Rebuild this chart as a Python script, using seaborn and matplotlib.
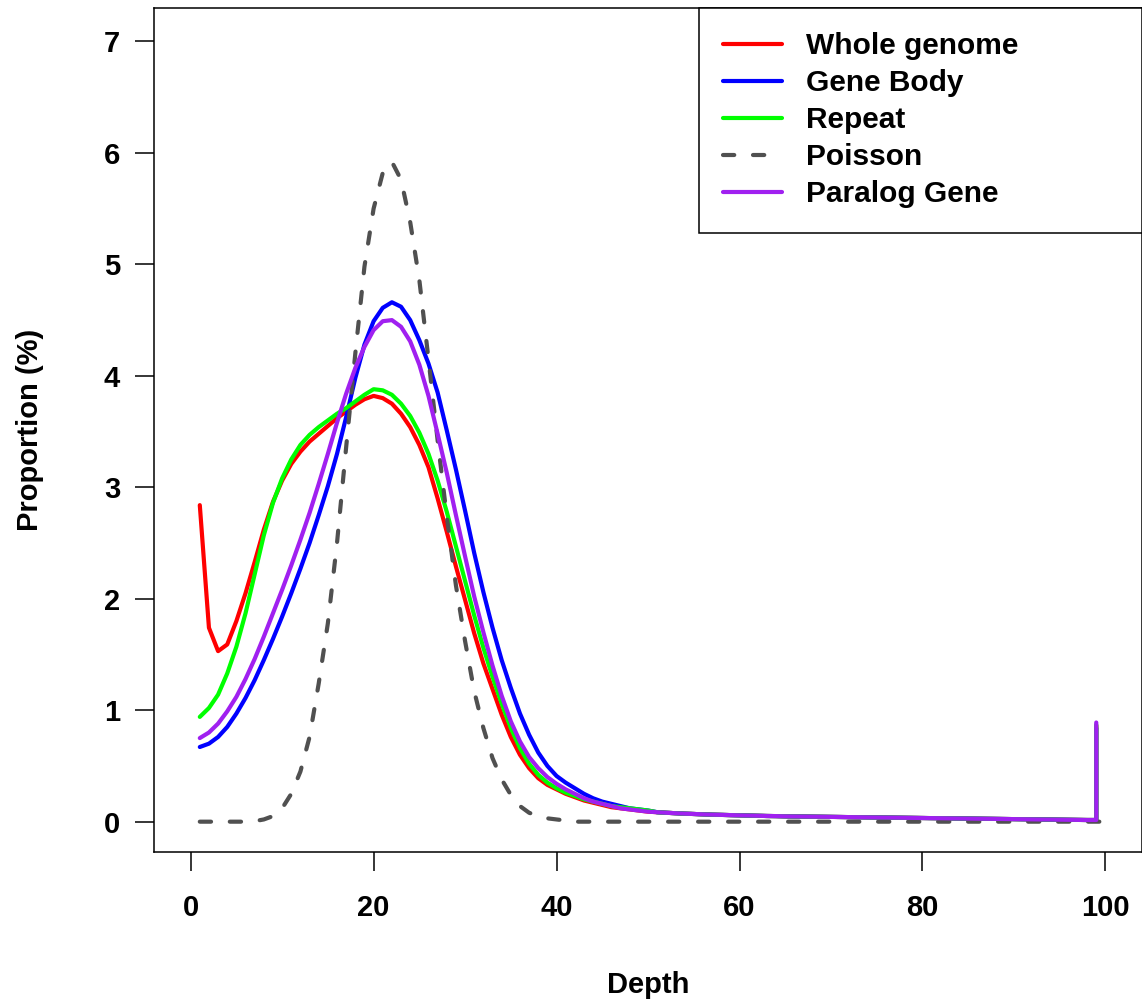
import matplotlib
matplotlib.use("Agg")
import matplotlib.pyplot as plt
import pandas as pd
import seaborn as sns
from matplotlib.lines import Line2D

# ---- sequencing depth distribution (% of bases at each depth) ----
depth_head = list(range(1, 51))
whole_genome_head = [2.84, 1.74, 1.53, 1.59, 1.80, 2.05, 2.33, 2.62, 2.87, 3.06,
                     3.21, 3.32, 3.41, 3.48, 3.55, 3.62, 3.68, 3.74, 3.79, 3.82,
                     3.80, 3.75, 3.66, 3.54, 3.38, 3.18, 2.90, 2.60, 2.29, 1.99,
                     1.69, 1.42, 1.19, 0.96, 0.76, 0.60, 0.48, 0.39, 0.33, 0.29,
                     0.25, 0.22, 0.19, 0.17, 0.15, 0.13, 0.12, 0.11, 0.10, 0.09]
gene_body_head = [0.67, 0.70, 0.76, 0.85, 0.97, 1.11, 1.27, 1.45, 1.64, 1.84,
                  2.05, 2.27, 2.50, 2.75, 3.01, 3.30, 3.63, 3.98, 4.28, 4.49,
                  4.61, 4.66, 4.62, 4.50, 4.32, 4.11, 3.85, 3.51, 3.16, 2.79,
                  2.41, 2.06, 1.74, 1.45, 1.20, 0.97, 0.78, 0.62, 0.50, 0.41,
                  0.35, 0.30, 0.25, 0.21, 0.18, 0.16, 0.14, 0.12, 0.11, 0.10]
repeat_head = [0.94, 1.02, 1.14, 1.33, 1.57, 1.87, 2.22, 2.57, 2.86, 3.08,
               3.25, 3.38, 3.47, 3.54, 3.60, 3.66, 3.71, 3.77, 3.83, 3.88,
               3.87, 3.83, 3.75, 3.64, 3.49, 3.30, 3.06, 2.78, 2.47, 2.16,
               1.85, 1.56, 1.30, 1.06, 0.84, 0.66, 0.52, 0.42, 0.35, 0.30,
               0.26, 0.23, 0.20, 0.18, 0.16, 0.14, 0.13, 0.12, 0.11, 0.10]
paralog_head = [0.75, 0.80, 0.88, 0.99, 1.12, 1.28, 1.46, 1.66, 1.87, 2.08,
                2.30, 2.53, 2.77, 3.03, 3.30, 3.58, 3.84, 4.07, 4.26, 4.41,
                4.49, 4.50, 4.44, 4.31, 4.10, 3.82, 3.48, 3.13, 2.75, 2.38,
                2.02, 1.70, 1.40, 1.13, 0.90, 0.72, 0.58, 0.48, 0.40, 0.34,
                0.29, 0.25, 0.21, 0.18, 0.16, 0.14, 0.12, 0.11, 0.10, 0.09]

# long low tail shared by all observed distributions (depth 51..99)
depth_tail = list(range(51, 100))
low_tail = [0.085, 0.080, 0.076, 0.072, 0.069, 0.066, 0.063, 0.061, 0.059, 0.057,
            0.055, 0.053, 0.051, 0.050, 0.048, 0.047, 0.046, 0.045, 0.044, 0.043,
            0.042, 0.041, 0.040, 0.039, 0.038, 0.037, 0.036, 0.035, 0.034, 0.033,
            0.032, 0.031, 0.030, 0.029, 0.028, 0.027, 0.026, 0.025, 0.024, 0.023,
            0.022, 0.021, 0.020, 0.019, 0.018, 0.017, 0.016, 0.015, 0.015]

# accumulated fraction of bases at depth >= 99
overflow_depth = 99
overflow = {"Whole genome": 0.86, "Gene Body": 0.84, "Repeat": 0.87, "Paralog Gene": 0.89}

# expected Poisson distribution
poisson_depth = list(range(1, 101))
poisson_vals = [0.0, 0.0, 0.0, 0.0, 0.0, 0.0, 0.005, 0.02, 0.05, 0.12,
                0.25, 0.45, 0.76, 1.24, 1.78, 2.50, 3.36, 4.20, 4.98, 5.50,
                5.82, 5.92, 5.76, 5.38, 4.86, 4.15, 3.42, 2.74, 2.12, 1.62,
                1.17, 0.84, 0.57, 0.38, 0.24, 0.14, 0.08, 0.05, 0.03, 0.02,
                0.01] + [0.0] * 59

series_names = ["Whole genome", "Gene Body", "Repeat", "Poisson", "Paralog Gene"]
series_colors = ["#FF0000", "#0000FF", "#00FF00", "#505050", "#A020F0"]
x_ticks = [0, 20, 40, 60, 80, 100]
y_ticks = [0, 1, 2, 3, 4, 5, 6, 7]

heads = {"Whole genome": whole_genome_head, "Gene Body": gene_body_head,
         "Repeat": repeat_head, "Paralog Gene": paralog_head}


def observed_frame(name):
    xs = depth_head + depth_tail + [overflow_depth]
    ys = heads[name] + low_tail + [overflow[name]]
    return pd.DataFrame({"Depth": xs, "Proportion": ys})


sns.set_theme(style="white")
plt.rcParams["font.family"] = ["Liberation Sans", "DejaVu Sans"]
plt.rcParams["font.weight"] = "bold"
plt.rcParams["axes.labelweight"] = "bold"
plt.rcParams["text.color"] = "black"
plt.rcParams["axes.labelcolor"] = "black"
plt.rcParams["xtick.color"] = "black"
plt.rcParams["ytick.color"] = "black"

fig = plt.figure(figsize=(11.42, 9.99), dpi=100)
ax = fig.add_axes([0.1349, 0.14715, 0.8651, 0.84484])

lw = 3.0
dash_pattern = (2.7, 4.5)
handles = []
for name, color in zip(series_names, series_colors):
    if name == "Poisson":
        df = pd.DataFrame({"Depth": poisson_depth, "Proportion": poisson_vals})
        sns.lineplot(data=df, x="Depth", y="Proportion", ax=ax, color=color,
                     linewidth=lw, dashes=False, estimator=None, sort=False,
                     errorbar=None, legend=False)
        line = ax.lines[-1]
        line.set_dashes(dash_pattern)
        line.set_dash_capstyle("round")
        handles.append(Line2D([], [], color=color, lw=lw, dashes=dash_pattern,
                              dash_capstyle="round", label=name))
    else:
        sns.lineplot(data=observed_frame(name), x="Depth", y="Proportion", ax=ax,
                     color=color, linewidth=lw, estimator=None, sort=False,
                     errorbar=None, legend=False)
        ax.lines[-1].set_solid_joinstyle("round")
        handles.append(Line2D([], [], color=color, lw=lw, label=name))

ax.set_xlim(-4, 104)
ax.set_ylim(-0.272, 7.30)
ax.set_xticks(x_ticks)
ax.set_yticks(y_ticks)
ax.set_xticklabels([str(v) for v in x_ticks])
ax.set_yticklabels([str(v) for v in y_ticks])

for side in ["left", "right", "top", "bottom"]:
    ax.spines[side].set_visible(True)
    ax.spines[side].set_color("black")
    ax.spines[side].set_linewidth(1.1)

ax.tick_params(axis="both", which="major", direction="out", length=13.5,
               width=1.1, color="black", labelsize=21, labelcolor="black",
               bottom=True, left=True)
ax.tick_params(axis="x", pad=17)
ax.tick_params(axis="y", pad=11)
for lbl in ax.get_xticklabels() + ax.get_yticklabels():
    lbl.set_fontweight("bold")

ax.set_xlabel("Depth", fontsize=21, fontweight="bold", color="black", labelpad=35)
ax.set_ylabel("Proportion (%)", fontsize=21, fontweight="bold", color="black",
              labelpad=43)

leg = ax.legend(handles=handles, loc="upper left",
                bbox_to_anchor=(0.5516, 0.738, 0.4484, 0.262), mode="expand",
                borderaxespad=0, frameon=True, fancybox=False, shadow=False,
                edgecolor="black", facecolor="white", framealpha=1,
                handlelength=1.95, handletextpad=0.8, labelspacing=0.3,
                borderpad=0.82, prop={"size": 21.5, "weight": "bold"})
leg.get_frame().set_linewidth(1.1)
for txt in leg.get_texts():
    txt.set_color("black")

fig.savefig("out.png", dpi=100, facecolor="white")
